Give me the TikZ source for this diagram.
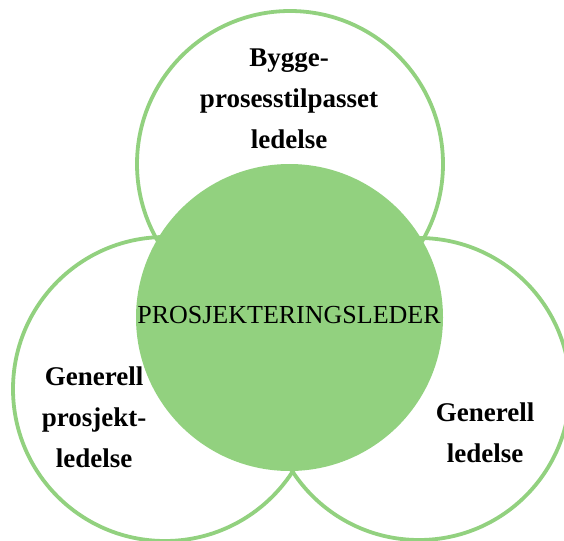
\documentclass[tikz,border=0pt]{standalone}
\usepackage{fontspec}
\setmainfont{Liberation Serif}
\definecolor{leafgreen}{RGB}{146,209,127}
\tikzset{
  ring/.style={draw=leafgreen, line width=3.8pt, fill=none},
  core/.style={fill=leafgreen, draw=none},
  ringlabel/.style={font=\bfseries\fontsize{27}{41}\selectfont, align=center, anchor=base, inner sep=0pt, text=black},
  corelabel/.style={font=\fontsize{26}{30}\selectfont, anchor=base, inner sep=0pt, text=black}
}
\begin{document}
\begin{tikzpicture}[x=1pt,y=-1pt]
  \useasboundingbox (0,0) rectangle (564,540);
  % three outer rings
  \draw[ring] (290,164) circle[radius=153];
  \draw[ring] (165,389) circle[radius=152];
  \draw[ring] (419,389) circle[radius=151];
  % filled centre
  \fill[core] (289.5,317.5) circle[radius=153.5];
  % labels (anchored at the baseline of their last line)
  \node[corelabel] (core) at (289,323) {PROSJEKTERINGSLEDER};
  \node[ringlabel] (top) at (289,149) {Bygge-\\prosesstilpasset\\ledelse};
  \node[ringlabel] (left) at (94,467) {Generell\\prosjekt-\\ledelse};
  \node[ringlabel] (right) at (485,462) {Generell\\ledelse};
\end{tikzpicture}
\end{document}
